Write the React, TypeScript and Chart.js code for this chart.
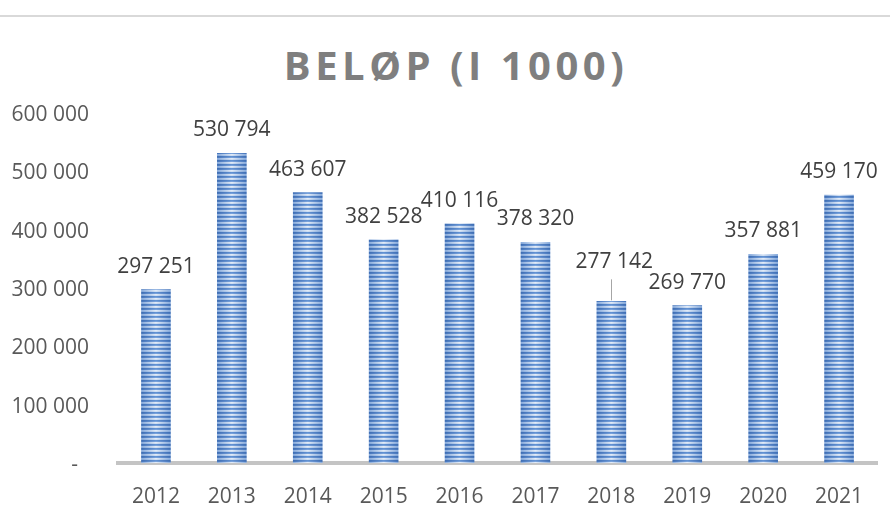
import React, { useEffect, useRef } from "react";
import { Chart, registerables } from "chart.js";

Chart.register(...registerables);

// ---- data ----
const chartTitle = "BELØP (I 1000)";
const years = ["2012", "2013", "2014", "2015", "2016", "2017", "2018", "2019", "2020", "2021"];
const amounts = [297251, 530794, 463607, 382528, 410116, 378320, 277142, 269770, 357881, 459170];
const yMin = 0;
const yMax = 600000;
const yStep = 100000;

// ---- label styling (kept apart from the data) ----
const labelExtraLift = [0, 0, 0, 0, 0, 0, 16, 0, 0, 0];
const labelShiftX = [0, 0, 0, 0, 0, 0, 3, 0, 0, 0];
const labelLeader = [false, false, false, false, false, false, true, false, false, false];

const FONT = '"Open Sans", "DejaVu Sans", sans-serif';
const BAR_W = 29;

function fmt(v: number): string {
  if (v === 0) return "-  ";
  return String(Math.round(v)).replace(/\B(?=(\d{3})+(?!\d))/g, " ");
}

function makeStripePattern(ctx2d: CanvasRenderingContext2D): CanvasPattern | null {
  const c = document.createElement("canvas");
  c.width = BAR_W;
  c.height = 4;
  const g = c.getContext("2d")!;
  const rows: [string, string][] = [
    ["#3f6eb3", "#6393d4"],
    ["#4675bb", "#7aa3dc"],
    ["#8aaddd", "#e3ecf8"],
    ["#7fa4d8", "#d2e0f3"],
  ];
  rows.forEach(([edge, mid], r) => {
    const grad = g.createLinearGradient(0, 0, BAR_W, 0);
    grad.addColorStop(0, edge);
    grad.addColorStop(0.5, mid);
    grad.addColorStop(1, edge);
    g.fillStyle = grad;
    g.fillRect(0, r, BAR_W, 1);
  });
  return ctx2d.createPattern(c, "repeat");
}

function barFill(context: any): any {
  const chart = context.chart;
  const xScale = chart?.scales?.x;
  if (!xScale || !chart.chartArea || context.dataIndex === undefined) return "#5b8bd0";
  const cx = xScale.getPixelForValue(context.dataIndex);
  const pat = makeStripePattern(chart.ctx);
  if (!pat) return "#5b8bd0";
  pat.setTransform(new DOMMatrix().translate(cx - BAR_W / 2, 0));
  return pat;
}

const valueLabels = {
  id: "valueLabels",
  afterDatasetsDraw(chart: any) {
    const ctx = chart.ctx as CanvasRenderingContext2D;
    const meta = chart.getDatasetMeta(0);
    ctx.save();
    ctx.font = `21px ${FONT}`;
    ctx.fillStyle = "#404040";
    ctx.textAlign = "center";
    ctx.textBaseline = "middle";
    meta.data.forEach((bar: any, i: number) => {
      const { x, y } = bar.getProps(["x", "y"], true);
      const ly = y - 23 - labelExtraLift[i];
      ctx.fillText(fmt(amounts[i]), x + labelShiftX[i], ly);
      if (labelLeader[i]) {
        ctx.save();
        ctx.strokeStyle = "#a6a6a6";
        ctx.lineWidth = 1;
        ctx.beginPath();
        ctx.moveTo(Math.round(x) + 0.5, ly + 17);
        ctx.lineTo(Math.round(x) + 0.5, y - 1);
        ctx.stroke();
        ctx.restore();
      }
    });
    ctx.restore();
  },
};

export default function App() {
  const canvasRef = useRef<HTMLCanvasElement | null>(null);

  useEffect(() => {
    document.body.style.margin = "0";
    const canvas = canvasRef.current;
    if (!canvas) return;
    const chart = new Chart(canvas, {
      type: "bar",
      data: {
        labels: years,
        datasets: [
          {
            data: amounts,
            backgroundColor: barFill,
            borderWidth: 0,
            barThickness: BAR_W,
          },
        ],
      },
      options: {
        animation: false,
        responsive: true,
        maintainAspectRatio: false,
        layout: { padding: { top: 113, right: 13, bottom: 0, left: 0 } },
        plugins: {
          legend: { display: false },
          tooltip: { enabled: false },
          title: { display: false },
        },
        scales: {
          x: {
            grid: { display: false, drawTicks: false },
            border: { display: true, color: "#c4c4c4", width: 4 },
            ticks: {
              color: "#595959",
              font: { family: FONT, size: 21 },
              padding: 21,
              maxRotation: 0,
              autoSkip: false,
            },
            afterFit: (scale: any) => {
              scale.height = 65;
            },
          },
          y: {
            min: yMin,
            max: yMax,
            grid: { display: false, drawTicks: false },
            border: { display: false },
            ticks: {
              stepSize: yStep,
              padding: 29,
              labelOffset: 2,
              color: "#595959",
              font: { family: FONT, size: 21 },
              callback: (v: any) => fmt(Number(v)),
            },
            afterFit: (scale: any) => {
              scale.width = 118;
            },
          },
        },
      },
      plugins: [valueLabels],
    } as any);
    return () => chart.destroy();
  }, []);

  return (
    <div style={{ position: "absolute", left: 0, top: 0, width: 890, height: 528, background: "#ffffff", overflow: "hidden" }}>
      <div style={{ position: "absolute", left: 0, top: 15, width: 890, height: 2, background: "#d9d9d9" }} />
      <div
        style={{
          position: "absolute",
          left: 11,
          top: 45,
          width: 890,
          height: 40,
          lineHeight: "40px",
          textAlign: "center",
          fontFamily: FONT,
          fontWeight: 700,
          fontSize: 40,
          letterSpacing: "4.5px",
          color: "#7f7f7f",
          whiteSpace: "nowrap",
        }}
      >
        {chartTitle}
      </div>
      <div style={{ position: "absolute", left: 0, top: 0, width: 890, height: 528 }}>
        <canvas ref={canvasRef} />
      </div>
    </div>
  );
}
